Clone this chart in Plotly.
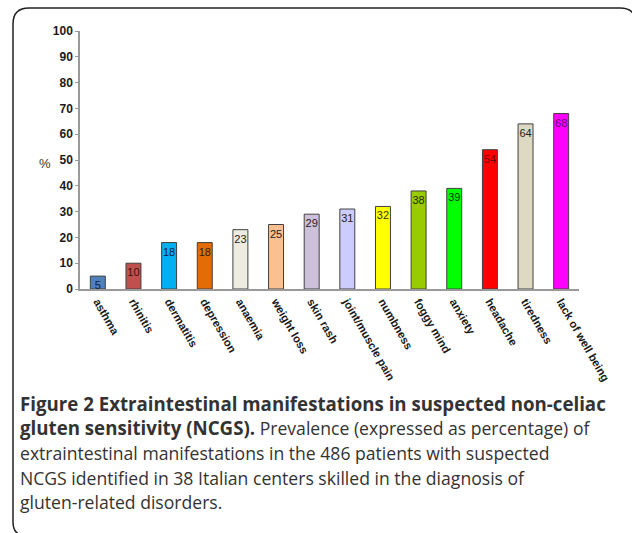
import plotly.graph_objects as go

categories = ["asthma", "rhinitis", "dermatitis", "depression", "anaemia", "weight loss",
              "skin rash", "joint/muscle pain", "numbness", "foggy mind", "anxiety",
              "headache", "tiredness", "lack of well being"]
values = [5, 10, 18, 18, 23, 25, 29, 31, 32, 38, 39, 54, 64, 68]
bar_colors = ["#4F81BD", "#C0504D", "#00B0F0", "#E36C09", "#EEECE1", "#FAC090",
              "#CCC0DA", "#CCCCFF", "#FFFF00", "#99CC00", "#00FF00", "#FF0000",
              "#DDD9C3", "#FF00FF"]
text_colors = ["#10203a", "#3a1010", "#10203a", "#3a1a05", "#222222", "#222222",
               "#222222", "#222222", "#333300", "#1f2a00", "#003300", "#700000",
               "#222222", "#700070"]
y_ticks = [0, 10, 20, 30, 40, 50, 60, 70, 80, 90, 100]
caption_lines = [
    "<b>Figure 2 Extraintestinal manifestations in suspected non-celiac</b>",
    "<b>gluten sensitivity (NCGS).</b> Prevalence (expressed as percentage) of",
    "extraintestinal manifestations in the 486 patients with suspected",
    "NCGS identified in 38 Italian centers skilled in the diagnosis of",
    "gluten-related disorders.",
]

W, H = 632, 533
L, R, T, B = 80, 53, 31, 244
pw, ph = W - L - R, H - T - B


def px(x):
    return (x - L) / pw


def py(y):
    return (H - B - y) / ph


def style_caption(txt):
    # bold runs of the caption are set a touch larger, as in the reference
    return txt.replace("<b>", "<b><span style='font-size:18.7px'>").replace("</b>", "</span></b>")


fig = go.Figure(go.Bar(
    x=categories, y=values,
    marker=dict(color=bar_colors, line=dict(color="#404040", width=1)),
    width=0.42,
    text=[str(v) for v in values],
    textposition="inside", insidetextanchor="end", textangle=0,
    textfont=dict(family="Liberation Sans, Arial", size=11, color=text_colors),
    constraintext="none",
    hoverinfo="skip",
))

fig.update_layout(
    width=W, height=H,
    margin=dict(l=L, r=R, t=T, b=B, pad=0),
    paper_bgcolor="white", plot_bgcolor="white",
    showlegend=False,
    uniformtext=dict(minsize=8, mode="show"),
)
fig.update_xaxes(
    range=[-0.5, 13.5], showline=True, linecolor="#9a9a9a", linewidth=1.5,
    ticks="", tickangle=60, showgrid=False, zeroline=False, automargin=False,
    tickfont=dict(family="Liberation Sans, Arial", size=11.3, color="#1a1a1a", weight="bold"),
)
fig.update_yaxes(
    range=[0, 100], tickvals=y_ticks, showline=True, linecolor="#9a9a9a", linewidth=1.5,
    ticks="outside", ticklen=3, tickcolor="#9a9a9a", showgrid=False, zeroline=False,
    automargin=False,
    tickfont=dict(family="Liberation Sans, Arial", size=12, color="#1a1a1a", weight="bold"),
)

annotations = [dict(
    x=px(45), y=py(163), xref="paper", yref="paper", text="%", showarrow=False,
    font=dict(family="Liberation Sans, Arial", size=13, color="#333333"),
    xanchor="center", yanchor="middle",
)]
line_y = [403, 427.5, 452.5, 477.5, 502]
for txt, yy in zip(caption_lines, line_y):
    annotations.append(dict(
        x=px(18), y=py(yy), xref="paper", yref="paper", text=style_caption(txt),
        showarrow=False,
        font=dict(family="Open Sans", size=17.6, color="#333333"),
        xanchor="left", yanchor="middle", align="left",
    ))
fig.update_layout(annotations=annotations)

path = (f"M {px(27)},{py(536)} Q {px(13)},{py(536)} {px(13)},{py(522)} "
        f"L {px(13)},{py(24)} Q {px(13)},{py(8)} {px(29)},{py(8)} "
        f"L {px(620)},{py(8)} Q {px(636)},{py(8)} {px(636)},{py(24)} "
        f"L {px(636)},{py(536)}")
fig.add_shape(type="path", path=path, xref="paper", yref="paper",
              line=dict(color="#222222", width=1.5))

fig.write_html("out.html", config={"displayModeBar": False},
               post_script="document.body.style.margin='0';")
